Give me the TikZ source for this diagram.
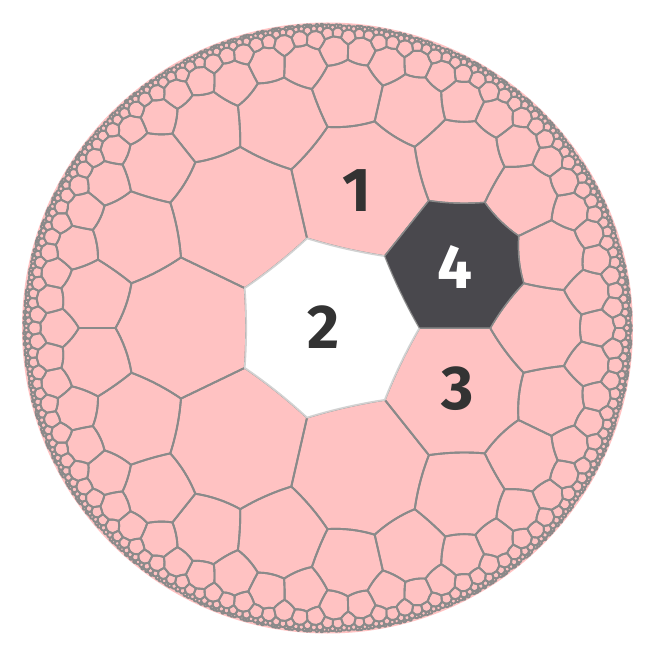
\documentclass[tikz,border=0pt]{standalone}
\usepackage{fontspec}
\setmainfont{Fira Sans}
\definecolor{cellpink}{RGB}{255,194,194}
\definecolor{edgegray}{RGB}{138,138,138}
\definecolor{cellfour}{RGB}{73,72,77}
\definecolor{labelgray}{RGB}{51,51,51}
\tikzset{
  tileedge/.style={draw=edgegray, line width=1.9pt, line join=round},
  homecell/.style={fill=white, draw=gray!35, line width=1.7pt, line join=round},
  darkcell/.style={fill=cellfour, draw=edgegray, line width=1pt, line join=round},
  celllabel/.style={font=\fontsize{62}{62}\bfseries\selectfont, text=labelgray, inner sep=0pt}
}

% {7,3} tiling of the Poincare disk: one sector of cells built by mirroring,
% drawn seven times turned
\ExplSyntaxOn
\fp_const:Nn \c_hb_rad_fp { 305.5 }
\fp_const:Nn \c_hb_rzero_fp { sqrt( cos(pi/7+pi/3) / cos(pi/7-pi/3) ) }
\fp_const:Nn \c_hb_lim_fp { 0.993^2 }
\fp_new:N \l_hb_ax_fp \fp_new:N \l_hb_ay_fp
\fp_new:N \l_hb_bx_fp \fp_new:N \l_hb_by_fp
\fp_new:N \l_hb_det_fp \fp_new:N \l_hb_sa_fp \fp_new:N \l_hb_sb_fp
\fp_new:N \l_hb_ox_fp \fp_new:N \l_hb_oy_fp \fp_new:N \l_hb_rr_fp
\fp_new:N \l_hb_ux_fp \fp_new:N \l_hb_uy_fp \fp_new:N \l_hb_len_fp
\fp_new:N \l_hb_dx_fp \fp_new:N \l_hb_dy_fp \fp_new:N \l_hb_tt_fp
\fp_new:N \l_hb_rx_fp \fp_new:N \l_hb_ry_fp
\fp_new:N \l_hb_hx_fp \fp_new:N \l_hb_hy_fp
\fp_new:N \l_hb_qx_fp \fp_new:N \l_hb_qy_fp
\fp_new:N \l_hb_cs_fp \fp_new:N \l_hb_sn_fp
\bool_new:N \l_hb_line_bool
\int_new:N \g_hb_tail_int
\int_new:N \l_hb_head_int
\int_new:N \l_hb_next_int
\int_new:N \l_hb_rot_int
\tl_new:N \l_hb_key_tl
\tl_new:N \l_hb_path_tl

\cs_new:Npn \hb_val:nnn #1#2#3 { \use:c { hb_cell_#1_#2_#3 } }
\cs_new:Npn \hb_xy:nn #1#2
  {
    ( \fp_eval:n { round( \c_hb_rad_fp * ( #1 ) , 2 ) } ,
      \fp_eval:n { round( \c_hb_rad_fp * ( #2 ) , 2 ) } )
  }

\cs_new_protected:Npn \hb_keep:n #1
  {
    \tl_gset:cx { hb_cell_ \int_use:N \g_hb_tail_int _ #1 _x } { \fp_use:N \l_hb_rx_fp }
    \tl_gset:cx { hb_cell_ \int_use:N \g_hb_tail_int _ #1 _y } { \fp_use:N \l_hb_ry_fp }
  }

% mirror circle (or diameter) through edge #2 of cell #1
\cs_new_protected:Npn \hb_mirror_setup:nn #1#2
  {
    \int_set:Nn \l_hb_next_int { \int_mod:nn { #2 + 1 } { 7 } }
    \fp_set:Nn \l_hb_ax_fp { \hb_val:nnn {#1} {#2} {x} }
    \fp_set:Nn \l_hb_ay_fp { \hb_val:nnn {#1} {#2} {y} }
    \fp_set:Nn \l_hb_bx_fp { \hb_val:nnn {#1} { \int_use:N \l_hb_next_int } {x} }
    \fp_set:Nn \l_hb_by_fp { \hb_val:nnn {#1} { \int_use:N \l_hb_next_int } {y} }
    \fp_set:Nn \l_hb_det_fp { \l_hb_ax_fp * \l_hb_by_fp - \l_hb_ay_fp * \l_hb_bx_fp }
    \fp_compare:nNnTF { abs( \l_hb_det_fp ) } < { 1e-12 }
      {
        \bool_set_true:N \l_hb_line_bool
        \fp_set:Nn \l_hb_len_fp { sqrt( \l_hb_ax_fp ^ 2 + \l_hb_ay_fp ^ 2 ) }
        \fp_set:Nn \l_hb_ux_fp { \l_hb_ax_fp / \l_hb_len_fp }
        \fp_set:Nn \l_hb_uy_fp { \l_hb_ay_fp / \l_hb_len_fp }
      }
      {
        \bool_set_false:N \l_hb_line_bool
        \fp_set:Nn \l_hb_sa_fp { ( \l_hb_ax_fp ^ 2 + \l_hb_ay_fp ^ 2 + 1 ) / 2 }
        \fp_set:Nn \l_hb_sb_fp { ( \l_hb_bx_fp ^ 2 + \l_hb_by_fp ^ 2 + 1 ) / 2 }
        \fp_set:Nn \l_hb_ox_fp { ( \l_hb_sa_fp * \l_hb_by_fp - \l_hb_sb_fp * \l_hb_ay_fp ) / \l_hb_det_fp }
        \fp_set:Nn \l_hb_oy_fp { ( \l_hb_ax_fp * \l_hb_sb_fp - \l_hb_bx_fp * \l_hb_sa_fp ) / \l_hb_det_fp }
        \fp_set:Nn \l_hb_rr_fp { \l_hb_ox_fp ^ 2 + \l_hb_oy_fp ^ 2 - 1 }
      }
  }

\cs_new_protected:Npn \hb_mirror:nn #1#2
  {
    \bool_if:NTF \l_hb_line_bool
      {
        \fp_set:Nn \l_hb_tt_fp { 2 * ( (#1) * \l_hb_ux_fp + (#2) * \l_hb_uy_fp ) }
        \fp_set:Nn \l_hb_rx_fp { \l_hb_tt_fp * \l_hb_ux_fp - (#1) }
        \fp_set:Nn \l_hb_ry_fp { \l_hb_tt_fp * \l_hb_uy_fp - (#2) }
      }
      {
        \fp_set:Nn \l_hb_dx_fp { (#1) - \l_hb_ox_fp }
        \fp_set:Nn \l_hb_dy_fp { (#2) - \l_hb_oy_fp }
        \fp_set:Nn \l_hb_tt_fp { \l_hb_rr_fp / ( \l_hb_dx_fp ^ 2 + \l_hb_dy_fp ^ 2 ) }
        \fp_set:Nn \l_hb_rx_fp { \l_hb_ox_fp + \l_hb_tt_fp * \l_hb_dx_fp }
        \fp_set:Nn \l_hb_ry_fp { \l_hb_oy_fp + \l_hb_tt_fp * \l_hb_dy_fp }
      }
  }

% turn the last mirrored point back into the first sector
\cs_new_protected:Npn \hb_turn:
  {
    \int_compare:nNnF { \l_hb_rot_int } = { 0 }
      {
        \fp_set:Nn \l_hb_tt_fp { \l_hb_rx_fp * \l_hb_cs_fp - \l_hb_ry_fp * \l_hb_sn_fp }
        \fp_set:Nn \l_hb_ry_fp { \l_hb_rx_fp * \l_hb_sn_fp + \l_hb_ry_fp * \l_hb_cs_fp }
        \fp_set_eq:NN \l_hb_rx_fp \l_hb_tt_fp
      }
  }

\cs_new_protected:Npn \hb_spawn:nn #1#2
  {
    \hb_mirror_setup:nn {#1} {#2}
    \hb_mirror:nn { \hb_val:nnn {#1} {c} {x} } { \hb_val:nnn {#1} {c} {y} }
    \fp_compare:nNnT { \l_hb_rx_fp ^ 2 + \l_hb_ry_fp ^ 2 } < { \c_hb_lim_fp }
      {
        \int_set:Nn \l_hb_rot_int
          { \fp_eval:n { floor( ( atan( \l_hb_ry_fp , \l_hb_rx_fp ) + 1e-9 ) / ( 2 * pi / 7 ) ) } }
        \int_compare:nNnF { \l_hb_rot_int } = { 0 }
          {
            \fp_set:Nn \l_hb_cs_fp { cos( - \l_hb_rot_int * 2 * pi / 7 ) }
            \fp_set:Nn \l_hb_sn_fp { sin( - \l_hb_rot_int * 2 * pi / 7 ) }
          }
        \hb_turn:
        \tl_set:Nx \l_hb_key_tl
          { \fp_eval:n { round( \l_hb_rx_fp * 1e6 ) + 0 } _ \fp_eval:n { round( \l_hb_ry_fp * 1e6 ) + 0 } }
        \cs_if_exist:cF { hb_seen_ \l_hb_key_tl }
          {
            \cs_gset:cpn { hb_seen_ \l_hb_key_tl } { }
            \hb_keep:n { c }
            \tl_gset:cn { hb_from_ \int_use:N \g_hb_tail_int } {#2}
            \int_step_inline:nnn { 0 } { 6 }
              {
                \hb_mirror:nn { \hb_val:nnn {#1} {##1} {x} } { \hb_val:nnn {#1} {##1} {y} }
                \hb_turn:
                \hb_keep:n {##1}
              }
            \int_gincr:N \g_hb_tail_int
          }
      }
  }

\cs_new_protected:Npn \hb_build:
  {
    \tl_gset:cn { hb_cell_0_c_x } { 0 }
    \tl_gset:cn { hb_cell_0_c_y } { 0 }
    \tl_gset:cn { hb_from_0 } { -1 }
    \int_step_inline:nnn { 0 } { 6 }
      {
        \tl_gset:cx { hb_cell_0_##1_x } { \fp_eval:n { \c_hb_rzero_fp * cos( 2 * pi * ##1 / 7 ) } }
        \tl_gset:cx { hb_cell_0_##1_y } { \fp_eval:n { \c_hb_rzero_fp * sin( 2 * pi * ##1 / 7 ) } }
      }
    \cs_gset:cpn { hb_seen_0_0 } { }
    \int_gset:Nn \g_hb_tail_int { 1 }
    \int_zero:N \l_hb_head_int
    \int_while_do:nNnn { \l_hb_head_int } < { \g_hb_tail_int }
      {
        \int_step_inline:nnn { 0 } { 6 }
          {
            \int_compare:nNnF {##1} = { \use:c { hb_from_ \int_use:N \l_hb_head_int } }
              { \hb_spawn:nn { \int_use:N \l_hb_head_int } {##1} }
          }
        \int_incr:N \l_hb_head_int
      }
  }

% one side of a cell: geodesic arc as a Bezier, short sides straight
\cs_new_protected:Npn \hb_side:nn #1#2
  {
    \int_set:Nn \l_hb_next_int { \int_mod:nn { #2 + 1 } { 7 } }
    \fp_compare:nNnTF
      {
        ( ( \hb_val:nnn {#1} {#2} {x} ) - ( \hb_val:nnn {#1} { \int_use:N \l_hb_next_int } {x} ) ) ^ 2
        + ( ( \hb_val:nnn {#1} {#2} {y} ) - ( \hb_val:nnn {#1} { \int_use:N \l_hb_next_int } {y} ) ) ^ 2
      }
      > { 0.0009 }
      {
        \hb_mirror_setup:nn {#1} {#2}
        \bool_if:NTF \l_hb_line_bool
          {
            \tl_put_right:Nx \l_hb_path_tl
              { -- \hb_xy:nn { \l_hb_bx_fp } { \l_hb_by_fp } }
          }
          {
            \fp_set:Nn \l_hb_hx_fp { ( \l_hb_ax_fp + \l_hb_bx_fp ) / 2 }
            \fp_set:Nn \l_hb_hy_fp { ( \l_hb_ay_fp + \l_hb_by_fp ) / 2 }
            \fp_set:Nn \l_hb_dx_fp { \l_hb_hx_fp - \l_hb_ox_fp }
            \fp_set:Nn \l_hb_dy_fp { \l_hb_hy_fp - \l_hb_oy_fp }
            \fp_set:Nn \l_hb_tt_fp { sqrt( \l_hb_rr_fp / ( \l_hb_dx_fp ^ 2 + \l_hb_dy_fp ^ 2 ) ) }
            \fp_set:Nn \l_hb_qx_fp { 2 * ( \l_hb_ox_fp + \l_hb_tt_fp * \l_hb_dx_fp ) - \l_hb_hx_fp }
            \fp_set:Nn \l_hb_qy_fp { 2 * ( \l_hb_oy_fp + \l_hb_tt_fp * \l_hb_dy_fp ) - \l_hb_hy_fp }
            \tl_put_right:Nx \l_hb_path_tl
              {
                .. ~ controls ~
                \hb_xy:nn { \l_hb_ax_fp + 2 / 3 * ( \l_hb_qx_fp - \l_hb_ax_fp ) }
                          { \l_hb_ay_fp + 2 / 3 * ( \l_hb_qy_fp - \l_hb_ay_fp ) }
                ~ and ~
                \hb_xy:nn { \l_hb_bx_fp + 2 / 3 * ( \l_hb_qx_fp - \l_hb_bx_fp ) }
                          { \l_hb_by_fp + 2 / 3 * ( \l_hb_qy_fp - \l_hb_by_fp ) }
                ~ .. ~
                \hb_xy:nn { \l_hb_bx_fp } { \l_hb_by_fp }
              }
          }
      }
      {
        \tl_put_right:Nx \l_hb_path_tl
          {
            -- \hb_xy:nn { \hb_val:nnn {#1} { \int_use:N \l_hb_next_int } {x} }
                         { \hb_val:nnn {#1} { \int_use:N \l_hb_next_int } {y} }
          }
      }
  }

\cs_new_protected:Npn \hb_make_path:n #1
  {
    \tl_set:Nx \l_hb_path_tl
      { \hb_xy:nn { \hb_val:nnn {#1} {0} {x} } { \hb_val:nnn {#1} {0} {y} } }
    \int_step_inline:nnn { 0 } { 6 } { \hb_side:nn {#1} {##1} }
    \tl_put_right:Nn \l_hb_path_tl { -- ~ cycle }
  }

\cs_new_protected:Npn \hb_emit:nn #1#2
  {
    \use:x { \exp_not:N \draw [ #1 , rotate = #2 * 360 / 7 ] \exp_not:V \l_hb_path_tl ; }
  }

\cs_new_protected:Npn \hb_draw_all:
  {
    \int_step_inline:nnn { 1 } { \g_hb_tail_int - 1 }
      {
        \hb_make_path:n {##1}
        \int_step_inline:nnn { 0 } { 6 } { \hb_emit:nn { tileedge } {####1} }
      }
  }

\NewDocumentCommand \BuildTiling { } { \hb_build: }
\NewDocumentCommand \DrawTiling { } { \hb_draw_all: }
\NewDocumentCommand \DrawCell { m m } { \hb_make_path:n {#2} \hb_emit:nn {#1} {0} }
\ExplSyntaxOff

\begin{document}
\begin{tikzpicture}[x=1pt, y=1pt]
  \useasboundingbox (-327.5,-332) rectangle (327.5,328);
  \BuildTiling
  \fill[cellpink] (0,0) circle (305.5);
  \DrawTiling
  \DrawCell{homecell}{0}
  \DrawCell{darkcell}{1}
  \node[celllabel] (lab1) at (29.5,137) {1};
  \node[celllabel] (lab2) at (-3.5,1.3) {2};
  \node[celllabel] (lab3) at (129.8,-61) {3};
  \node[celllabel, text=white] (lab4) at (127.2,61.3) {4};
\end{tikzpicture}
\end{document}
